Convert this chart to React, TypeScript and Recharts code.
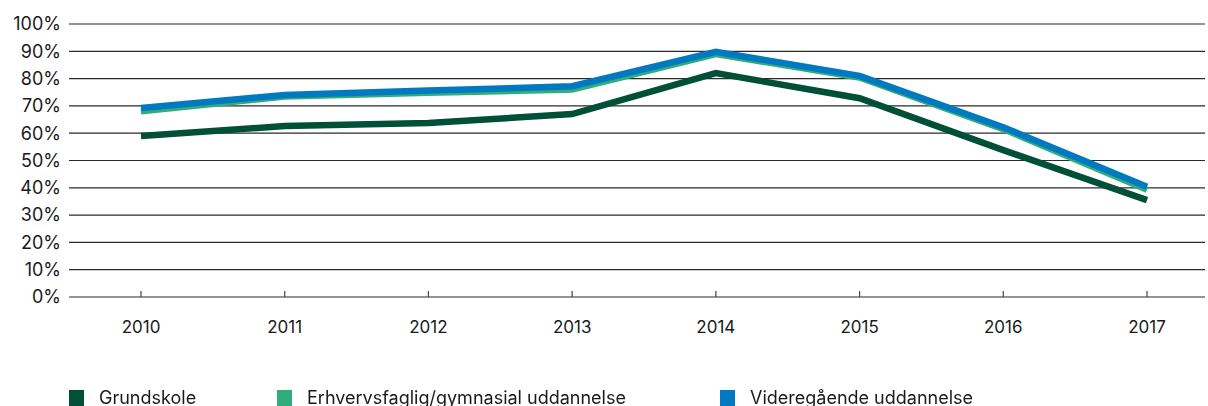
import { LineChart, Line, XAxis, YAxis, CartesianGrid } from 'recharts';

const years = ['2010', '2011', '2012', '2013', '2014', '2015', '2016', '2017'];
const grundskole = [59, 62.6, 63.7, 67, 82, 72.8, 53.8, 35.5];
const erhvervsfaglig = [68, 73.4, 74.8, 76, 89, 80.4, 61.5, 39.3];
const videregaaende = [69.2, 74, 75.6, 77.2, 89.8, 81, 62.2, 40.4];
const yTicks = [0, 10, 20, 30, 40, 50, 60, 70, 80, 90, 100];

const series = [
  { key: 'grundskole', name: 'Grundskole', color: '#004F37' },
  { key: 'erhvervsfaglig', name: 'Erhvervsfaglig/gymnasial uddannelse', color: '#2FAD7D' },
  { key: 'videregaaende', name: 'Videregående uddannelse', color: '#0079C0' },
];

const data = years.map((year, i) => ({
  year,
  grundskole: grundskole[i],
  erhvervsfaglig: erhvervsfaglig[i],
  videregaaende: videregaaende[i],
}));

const font = 'Inter, "Open Sans", sans-serif';

function XTick(props: any) {
  const { x, y, payload } = props;
  return (
    <g>
      <line x1={x} x2={x} y1={y - 6} y2={y} stroke="#444" strokeWidth={1.2} />
      <text x={x} y={y + 36} textAnchor="middle" fill="#1a1a1a" fontSize={17} fontFamily={font}>
        {payload.value}
      </text>
    </g>
  );
}

const legendPos = [69, 277, 720];

export default function App() {
  return (
    <div style={{ position: 'fixed', left: 0, top: 0, width: 1208, height: 406, background: '#fff' }}>
      <LineChart width={1208} height={406} data={data} margin={{ top: 24, right: 3, bottom: 79, left: 0 }}>
        <CartesianGrid vertical={false} stroke="#2a2a2a" strokeWidth={1.2} />
        <XAxis
          dataKey="year"
          scale="point"
          padding={{ left: 72, right: 58 }}
          axisLine={false}
          tickLine={false}
          tickSize={0}
          tickMargin={0}
          height={30}
          tick={<XTick />}
        />
        <YAxis
          domain={[0, 100]}
          ticks={yTicks}
          width={69}
          axisLine={false}
          tickLine={false}
          tickFormatter={(v: number) => `${v}%`}
          tick={{ fill: '#1a1a1a', fontSize: 18, fontFamily: font }}
          interval={0}
        />
        {series.map((s) => (
          <Line
            key={s.key}
            dataKey={s.key}
            name={s.name}
            stroke={s.color}
            strokeWidth={6.5}
            dot={false}
            type="linear"
            isAnimationActive={false}
          />
        ))}
      </LineChart>
      {series.map((s, i) => (
        <div
          key={s.key}
          style={{
            position: 'absolute',
            left: legendPos[i],
            top: 389,
            display: 'flex',
            alignItems: 'center',
            fontFamily: font,
            fontSize: 18,
            lineHeight: '18px',
            color: '#1a1a1a',
            whiteSpace: 'nowrap',
          }}
        >
          <span style={{ display: 'inline-block', width: 15, height: 17, background: s.color, marginRight: 15 }} />
          <span>{s.name}</span>
        </div>
      ))}
    </div>
  );
}
